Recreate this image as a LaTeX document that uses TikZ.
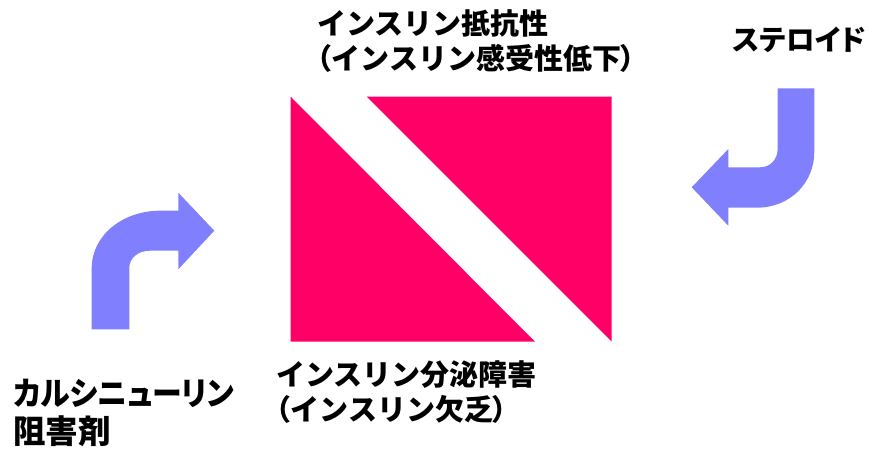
\documentclass[tikz,border=0pt]{standalone}
\usepackage{fontspec}
\newfontfamily\jp{Noto Sans CJK JP}[UprightFont={* Black}]
\newfontfamily\jpp{Noto Sans CJK JP}[UprightFont={* Black},RawFeature=+palt]
\newfontfamily\jpn{Noto Sans CJK JP}[UprightFont={* Black},RawFeature=+palt,FakeStretch=0.92]
\newcommand{\lp}{{\jpp （}}
\newcommand{\rp}{{\jpp ）}}
\definecolor{pinkred}{HTML}{FF0066}
\definecolor{arrowblue}{HTML}{8080FF}
\tikzset{
  lbl/.style={inner sep=0pt, align=left, anchor=base west},
  bigfont/.style={font=\jp\fontsize{29}{35}\selectfont},
  tri/.style={fill=pinkred, draw=none},
  bentarrow/.style={fill=arrowblue, draw=none}
}
\begin{document}
\begin{tikzpicture}[x=1pt,y=-1pt]
\path[use as bounding box] (0,0) rectangle (869,452);
% triangles
\path[tri] (290.7,96.7) -- (290.7,341.7) -- (535,341.7) -- cycle;
\path[tri] (366.7,96.7) -- (611.7,96.7) -- (611.7,341.7) -- cycle;
% left bent arrow
\path[bentarrow] (91.7,329.3) -- (91.7,268)
  .. controls (91.7,236) and (122,210.7) .. (160,210.7)
  -- (178.3,210.7) -- (178.3,192.7) -- (214.3,230.7) -- (178.3,269.3)
  -- (178.3,250.7) -- (150,250.7)
  .. controls (138,250.7) and (129.3,258) .. (129.3,268)
  -- (129.3,329.3) -- cycle;
% right bent arrow
\path[bentarrow] (777.7,88.3) -- (814.3,88.3) -- (814.3,151.7)
  .. controls (814.3,183) and (790,207.7) .. (756.7,207.7)
  -- (728.3,207.7) -- (728.3,225.7) -- (691.7,187.3) -- (728.3,149)
  -- (728.3,167.3) -- (760,167.3)
  .. controls (770,167.3) and (777.7,160) .. (777.7,148)
  -- cycle;
% labels
\node[lbl, bigfont] (resist) at (317,70) {インスリン抵抗性\\\lp インスリン感受性低下\rp};
\node[lbl, bigfont] (secret) at (276,420) {インスリン分泌障害\\\lp インスリン欠乏\rp};
\node[lbl, font=\jpp\fontsize{28.5}{35}\selectfont] (steroid) at (733,51) {ステロイド};
\node[lbl, font=\jp\fontsize{32.5}{38}\selectfont] (calci) at (13,443) {{\jpn カルシニューリン}\\阻害剤};
\end{tikzpicture}
\end{document}
